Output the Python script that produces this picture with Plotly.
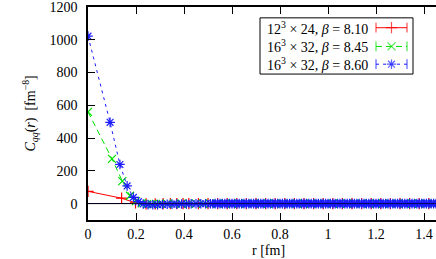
import plotly.graph_objects as go

# ---- data ----
red_r = [0, 0.14, 0.198, 0.242, 0.28, 0.313, 0.343, 0.37, 0.396, 0.42, 0.46, 0.50, 0.54,
         0.58, 0.62, 0.66, 0.70, 0.74, 0.78, 0.82, 0.86, 0.90, 0.94, 0.98, 1.02, 1.06,
         1.10, 1.14, 1.18, 1.22, 1.26, 1.30, 1.34, 1.38, 1.42, 1.46]
red_c = [75, 33, 4, -1, -1, 0, 0, 0, 0, 0, 0, 0, 0,
         0, 0, 0, 0, 0, 0, 0, 0, 0, 0, 0, 0, 0,
         0, 0, 0, 0, 0, 0, 0, 0, 0, 0]

green_r = [0, 0.10, 0.143, 0.175, 0.20, 0.224, 0.245, 0.265, 0.283, 0.30, 0.33, 0.36,
           0.39, 0.42, 0.45, 0.48, 0.51, 0.54, 0.57, 0.60, 0.63, 0.66, 0.69, 0.72, 0.75,
           0.78, 0.81, 0.84, 0.87, 0.90, 0.93, 0.96, 0.99, 1.02, 1.05, 1.08, 1.11, 1.14,
           1.17, 1.20, 1.23, 1.26, 1.29, 1.32, 1.35, 1.38, 1.41, 1.44, 1.47]
green_c = [560, 273, 137, 48, 15, 2, -3, -3, -2, -2, -1, -1,
           -1, 0, 0, 0, 0, 0, 0, 0, 0, 0, 0, 0, 0,
           0, 0, 0, 0, 0, 0, 0, 0, 0, 0, 0, 0, 0,
           0, 0, 0, 0, 0, 0, 0, 0, 0, 0, 0]

blue_r = [0, 0.092, 0.133, 0.163, 0.189, 0.21, 0.23, 0.25, 0.27, 0.29, 0.31, 0.33, 0.35,
          0.37, 0.39, 0.41, 0.43, 0.45, 0.47, 0.49,
          0.51, 0.52, 0.53, 0.54, 0.55, 0.56, 0.57, 0.58, 0.59, 0.60,
          0.61, 0.62, 0.63, 0.64, 0.65, 0.66, 0.67, 0.68, 0.69, 0.70,
          0.71, 0.72, 0.73, 0.74, 0.75, 0.76, 0.77, 0.78, 0.79, 0.80,
          0.81, 0.82, 0.83, 0.84, 0.85, 0.86, 0.87, 0.88, 0.89, 0.90,
          0.91, 0.92, 0.93, 0.94, 0.95, 0.96, 0.97, 0.98, 0.99, 1.00,
          1.01, 1.02, 1.03, 1.04, 1.05, 1.06, 1.07, 1.08, 1.09, 1.10,
          1.11, 1.12, 1.13, 1.14, 1.15, 1.16, 1.17, 1.18, 1.19, 1.20,
          1.21, 1.22, 1.23, 1.24, 1.25, 1.26, 1.27, 1.28, 1.29, 1.30,
          1.31, 1.32, 1.33, 1.34, 1.35, 1.36, 1.37, 1.38, 1.39, 1.40,
          1.41, 1.42, 1.43, 1.44, 1.45, 1.46]
blue_c = [1022, 496, 239, 108, 38, 12, -2, -6, -7, -6, -5, -4, -3,
          -3, -2, -2, -1, -1, -1, -1,
          -1, -1, 0, 0, 0, 0, 0, 0, 0, 0,
          0, 0, 0, 0, 0, 0, 0, 0, 0, 0,
          0, 0, 0, 0, 0, 0, 0, 0, 0, 0,
          0, 0, 0, 0, 0, 0, 0, 0, 0, 0,
          0, 0, 0, 0, 0, 0, 0, 0, 0, 0,
          0, 0, 0, 0, 0, 0, 0, 0, 0, 0,
          0, 0, 0, 0, 0, 0, 0, 0, 0, 0,
          0, 0, 0, 0, 0, 0, 0, 0, 0, 0,
          0, 0, 0, 0, 0, 0, 0, 0, 0, 0,
          0, 0, 0, 0, 0, 0]

labels = ["12<sup>3</sup> × 24, <i>β</i> = 8.10",
          "16<sup>3</sup> × 32, <i>β</i> = 8.45",
          "16<sup>3</sup> × 32, <i>β</i> = 8.60"]
x_ticks = [0, 0.2, 0.4, 0.6, 0.8, 1.0, 1.2, 1.4]
x_tick_text = ["0", "0.2", "0.4", "0.6", "0.8", "1", "1.2", "1.4"]
y_ticks = [0, 200, 400, 600, 800, 1000, 1200]

FONT = "Liberation Serif, DejaVu Serif, serif"
colors = ["#ff0000", "#00e000", "#1a1aff"]
dashes = ["solid", "6px,4px", "3px,4px"]
symbols = ["cross-thin-open", "x-thin-open", "asterisk-open"]

fig = go.Figure()
series = [(red_r, red_c), (green_r, green_c), (blue_r, blue_c)]
for (r, c), col, d, s in zip(series, colors, dashes, symbols):
    fig.add_trace(go.Scatter(
        x=r, y=c, mode="lines+markers", showlegend=False, cliponaxis=True,
        line=dict(color=col, width=1, dash=d),
        marker=dict(symbol=s, size=8, color=col, line=dict(color=col, width=1.2)),
    ))

# zero axis drawn above the data (as in the reference)
fig.add_shape(type="line", xref="paper", yref="y", x0=0, x1=1, y0=0, y1=0,
              layer="above", line=dict(color="rgba(0,0,40,0.8)", width=1))

# ---- custom legend (text left, sample right), on a pixel overlay axis ----
leg_y = [25, 44, 62]
for lab, col, d, s, yy in zip(labels, colors, dashes, symbols, leg_y):
    fig.add_trace(go.Scatter(
        x=[376, 391.5, 407], y=[yy, yy, yy], xaxis="x2", yaxis="y2",
        mode="lines+markers", showlegend=False, cliponaxis=False,
        line=dict(color=col, width=1, dash=d),
        marker=dict(symbol=["line-ns-open", s, "line-ns-open"], size=[7, 8, 7],
                    color=col, line=dict(color=col, width=1.2)),
    ))
    fig.add_annotation(x=370, y=yy, xref="x2", yref="y2", text=lab, showarrow=False,
                       xanchor="right", yanchor="middle",
                       font=dict(family=FONT, size=14, color="black"))
fig.add_shape(type="rect", xref="x2", yref="y2", x0=260, x1=413, y0=15, y1=72,
              line=dict(color="black", width=1), fillcolor="rgba(0,0,0,0)")

# ---- axis titles ----
fig.add_annotation(x=(30 - 88) / 348, y=0.5, xref="paper", yref="paper",
                   text="<i>C</i><sub><i>qq</i></sub>(<i>r</i>)  [fm<sup>−8</sup>]",
                   textangle=-90, showarrow=False, xanchor="center", yanchor="middle",
                   font=dict(family=FONT, size=14, color="black"))
fig.add_annotation(x=(268 - 88) / 348, y=(220 - 251) / 216, xref="paper", yref="paper",
                   text="r [fm]", showarrow=False, xanchor="center", yanchor="middle",
                   font=dict(family=FONT, size=14, color="black"))

fig.update_layout(
    width=436, height=259,
    margin=dict(l=88, r=0, t=4, b=39),
    paper_bgcolor="white", plot_bgcolor="white",
    font=dict(family=FONT, size=14, color="black"),
    xaxis=dict(range=[0, 1.45], tickvals=x_ticks, ticktext=x_tick_text,
               ticks="inside", ticklen=7, tickwidth=1, tickcolor="black",
               showline=True, linecolor="black", linewidth=1.5, mirror="ticks",
               showgrid=False, zeroline=False, ticklabelstandoff=0,
               ticklabeloverflow="allow"),
    yaxis=dict(range=[-100, 1200], tickvals=y_ticks,
               ticks="inside", ticklen=7, tickwidth=1, tickcolor="black",
               showline=True, linecolor="black", linewidth=1.5, mirror=False,
               showgrid=False, zeroline=True, zerolinecolor="black", zerolinewidth=1,
               ticklabelstandoff=6, ticklabeloverflow="allow"),
    xaxis2=dict(overlaying="x", range=[88, 436], visible=False, fixedrange=True),
    yaxis2=dict(overlaying="y", range=[220, 4], visible=False, fixedrange=True),
)

fig.write_html("out.html", config={"displayModeBar": False},
               post_script="document.body.style.margin='0';")
